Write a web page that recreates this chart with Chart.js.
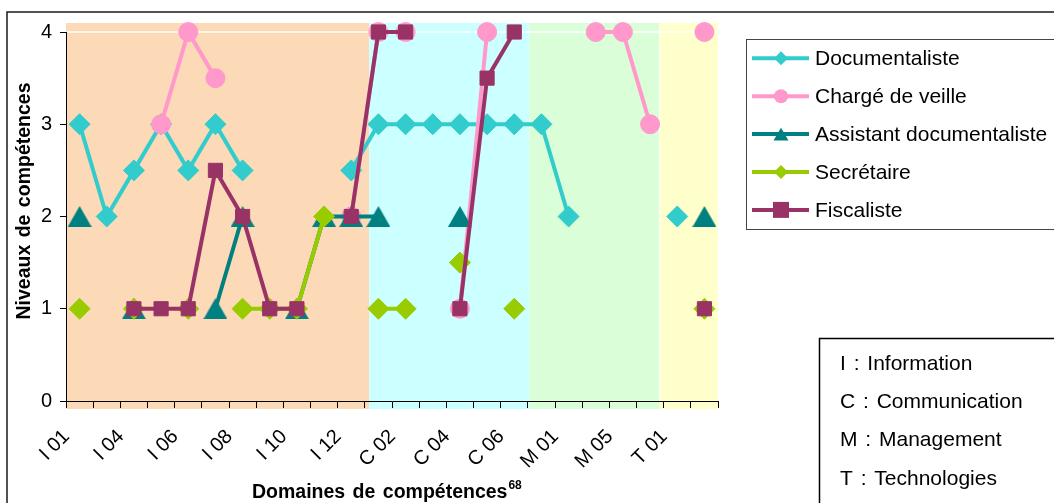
<!DOCTYPE html>
<html><head><meta charset="utf-8">
<script src="https://cdn.jsdelivr.net/npm/chart.js@4/dist/chart.umd.min.js"></script>
<style>html,body{margin:0;padding:0;background:#fff}#wrap{width:1054px;height:503px;position:relative;overflow:hidden}</style>
</head><body><div id="wrap"><canvas id="c" width="1054" height="503"></canvas></div>
<script>
// ---- data ----
const categories = ['I 01','I 03','I 04','I 05','I 06','I 07','I 08','I 09','I 10','I 11','I 12','C 01','C 02','C 03','C 04','C 05','C 06','C 07','M 01','M 03','M 05','M 06','T 01','T 02'];
const documentaliste = [3,2,2.5,3,2.5,3,2.5,null,null,null,2.5,3,3,3,3,3,3,3,2,null,null,null,2,null];
const chargeVeille   = [null,null,null,3,4,3.5,null,null,null,null,2,4,4,null,1,4,null,null,null,4,4,3,null,4];
const assistant      = [2,null,1,null,null,1,2,null,1,2,2,2,null,null,2,null,null,null,null,null,null,null,null,2];
const secretaire     = [1,null,1,null,1,null,1,1,1,2,null,1,1,null,1.5,null,1,null,null,null,null,null,null,1];
const fiscaliste     = [null,null,1,1,1,2.5,2,1,1,null,2,4,4,null,1,3.5,4,null,null,null,null,null,null,1];
const seriesNames = ['Documentaliste','Chargé de veille','Assistant documentaliste','Secrétaire','Fiscaliste'];
const yTicks = [0,1,2,3,4];
const yTitle = 'Niveaux de compétences';
const xTitle = 'Domaines de compétences';
const xTitleSup = '68';
const domainNotes = ['I : Information','C : Communication','M : Management','T : Technologies'];

// ---- styles ----
const colors = ['#33CCCC','#FF99CC','#008080','#99CC00','#993366'];
const bands = [
  {from:-0.5, to:10.66, color:'#FCD9B7'},
  {from:10.66, to:16.55, color:'#CCFFFF'},
  {from:16.55, to:21.35, color:'#DAFFD8'},
  {from:21.35, to:23.5, color:'#FFFFCC'}
];
const FONT = '"Liberation Sans", Arial, Helvetica, sans-serif';

function triCanvas(w,h,color){
  const c=document.createElement('canvas'); c.width=w; c.height=h;
  const g=c.getContext('2d'); g.fillStyle=color; g.beginPath();
  g.moveTo(w/2,0); g.lineTo(w,h); g.lineTo(0,h); g.closePath(); g.fill(); return c;
}
const triBig = triCanvas(24,21,colors[2]);

function ds(label,data,color,style,radius,order){
  return {label,data,borderColor:color,backgroundColor:color,borderWidth:4,
    pointStyle:style,pointRadius:radius,pointHoverRadius:radius,pointBorderWidth:1,
    pointBorderColor:color,pointBackgroundColor:color,spanGaps:false,tension:0,clip:false,order};
}

function marker(ctx,kind,x,y,s,color){
  ctx.fillStyle=color; ctx.beginPath();
  if(kind==='diamond'){ctx.moveTo(x-s,y);ctx.lineTo(x,y-s);ctx.lineTo(x+s,y);ctx.lineTo(x,y+s);ctx.closePath();}
  else if(kind==='circle'){ctx.arc(x,y,s,0,Math.PI*2);}
  else if(kind==='triangle'){ctx.moveTo(x,y-s*0.85);ctx.lineTo(x+s,y+s*0.85);ctx.lineTo(x-s,y+s*0.85);ctx.closePath();}
  else if(kind==='square'){ctx.rect(x-s,y-s,2*s,2*s);}
  ctx.fill();
}
const legendKinds=[['diamond',7],['circle',7],['triangle',7.5],['diamond',7],['square',8]];

const deco = {
  id:'deco',
  beforeDraw(chart){
    const {ctx,chartArea:a,scales:{x}}=chart;
    ctx.save();
    ctx.fillStyle='#fff'; ctx.fillRect(0,0,chart.width,chart.height);
    bands.forEach(b=>{
      const x0=x.getPixelForValue(b.from), x1=x.getPixelForValue(b.to);
      ctx.fillStyle=b.color; ctx.fillRect(x0,a.top-9,x1-x0,a.bottom+8-(a.top-9));
    });
    const xb=x.getPixelForValue(bands[3].from);
    ctx.strokeStyle='#fff'; ctx.lineWidth=1; ctx.beginPath(); ctx.moveTo(xb,a.top-8); ctx.lineTo(xb,a.bottom); ctx.stroke();
    ctx.restore();
  },
  beforeDatasetsDraw(chart){
    const {ctx,chartArea:a,scales:{y}}=chart;
    const yy=y.getPixelForValue(yTicks[yTicks.length-1]);
    ctx.save(); ctx.strokeStyle='#fff'; ctx.lineWidth=1.5;
    ctx.beginPath(); ctx.moveTo(a.left+1,yy); ctx.lineTo(a.right,yy); ctx.stroke(); ctx.restore();
  },
  afterDraw(chart){
    const {ctx}=chart;
    ctx.save();
    // outer frame
    ctx.strokeStyle='#1a1a1a'; ctx.lineWidth=1.5;
    ctx.beginPath(); ctx.moveTo(7,503); ctx.lineTo(7,12); ctx.lineTo(1054,12); ctx.stroke();
    // legend
    ctx.strokeStyle='#444'; ctx.lineWidth=1;
    ctx.strokeRect(746.5,39.5,400,190);
    ctx.font='21px '+FONT; ctx.textBaseline='middle'; ctx.textAlign='left';
    seriesNames.forEach((n,i)=>{
      const yy=58.3+i*37.9;
      ctx.strokeStyle=colors[i]; ctx.lineWidth=4;
      ctx.beginPath(); ctx.moveTo(752,yy); ctx.lineTo(809,yy); ctx.stroke();
      marker(ctx,legendKinds[i][0],781,yy,legendKinds[i][1],colors[i]);
      ctx.fillStyle='#000'; ctx.fillText(n,815,yy+1);
    });
    // domain notes box
    ctx.strokeStyle='#000'; ctx.lineWidth=1.5;
    ctx.strokeRect(819.5,338.5,400,300);
    ctx.fillStyle='#000'; ctx.font='21px '+FONT;
    if ('wordSpacing' in ctx) ctx.wordSpacing='2px';
    domainNotes.forEach((t,i)=>{ ctx.fillText(t,840,364+i*38.3); });
    // axis titles
    ctx.font='bold 19.5px '+FONT;
    ctx.save(); ctx.translate(25,201); ctx.rotate(-Math.PI/2); ctx.textAlign='center'; ctx.textBaseline='middle';
    ctx.fillText(yTitle,0,0); ctx.restore();
    ctx.textBaseline='alphabetic'; ctx.textAlign='left';
    ctx.fillText(xTitle,252,498);
    const w=ctx.measureText(xTitle).width;
    ctx.font='bold 12px '+FONT; ctx.fillText(xTitleSup,252+w+1,489);
    ctx.restore();
  }
};

new Chart(document.getElementById('c'),{
  type:'line',
  data:{labels:categories,datasets:[
    ds(seriesNames[0],documentaliste,colors[0],'rectRot',10.5,4),
    ds(seriesNames[1],chargeVeille,colors[1],'circle',9.5,3),
    ds(seriesNames[2],assistant,colors[2],triBig,12,2),
    ds(seriesNames[3],secretaire,colors[3],'rectRot',10.5,1),
    ds(seriesNames[4],fiscaliste,colors[4],'rect',10,0)
  ]},
  options:{
    responsive:false,animation:false,devicePixelRatio:1,
    layout:{padding:{left:0,right:336,top:32,bottom:0}},
    plugins:{legend:{display:false},tooltip:{enabled:false}},
    scales:{
      x:{type:'category',offset:true,
        grid:{offset:true,drawOnChartArea:false,drawTicks:true,tickLength:7,color:'#000',lineWidth:1},
        border:{display:true,color:'#000',width:1},
        ticks:{autoSkip:false,minRotation:45,maxRotation:45,color:'#000',font:{family:FONT,size:20},padding:17,labelOffset:-13,
          callback:(v,i)=> i%2===0 ? categories[i] : ''},
        afterFit:s=>{s.height=102;}
      },
      y:{min:0,max:4,
        afterBuildTicks:s=>{s.ticks=yTicks.map(v=>({value:v}));},
        grid:{drawOnChartArea:false,drawTicks:true,tickLength:6,color:'#000',lineWidth:1},
        border:{display:true,color:'#000',width:1},
        ticks:{color:'#000',font:{family:FONT,size:20},padding:8},
        afterFit:s=>{s.width=66;}
      }
    }
  },
  plugins:[deco]
});
</script></body></html>
